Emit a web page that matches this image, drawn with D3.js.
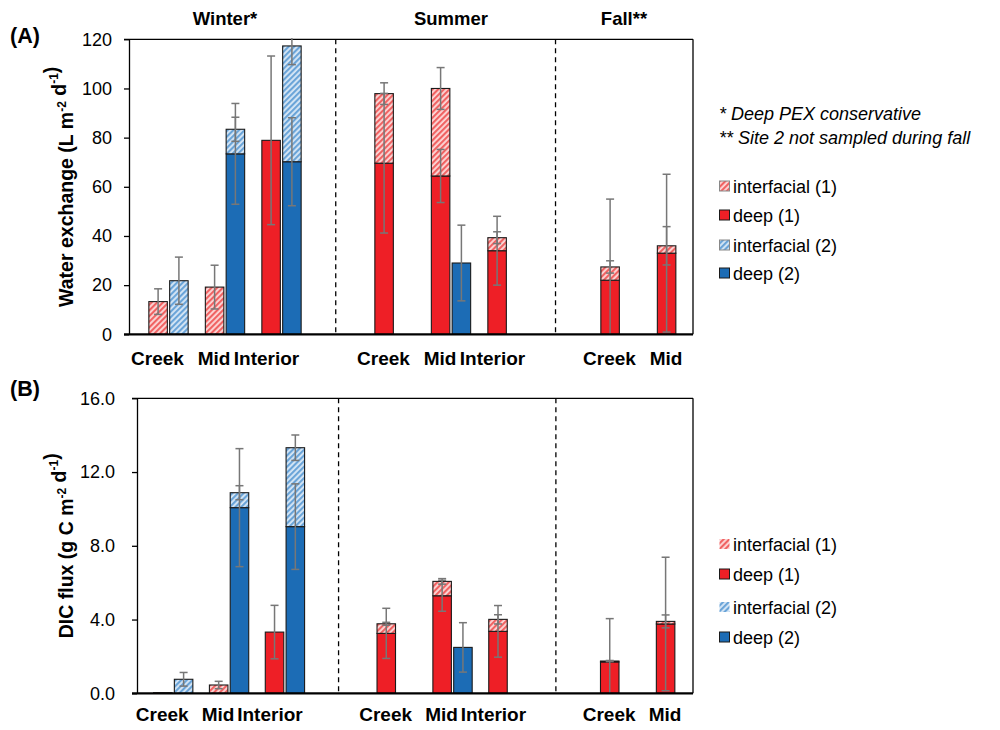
<!DOCTYPE html>
<html>
<head>
<meta charset="utf-8">
<script src="https://cdn.jsdelivr.net/npm/d3@7"></script>
<style>
  body { margin: 0; background: #fff; }
  svg { display: block; font-family: "Liberation Sans", Arial, Helvetica, sans-serif; }
</style>
</head>
<body>
<svg id="chart" width="1000" height="730"></svg>
<script>
// slots along the x axis (empty slots separate the seasons)
const slots = ["wCreek", "wMid", "wInterior", "gap1", "sCreek", "sMid", "sInterior", "gap2", "fCreek", "fMid"];
const seasons = ["Winter*", "Summer", "Fall**"];
const seasonGroups = [
  ["Creek", "Mid", "Interior"],
  ["Creek", "Mid", "Interior"],
  ["Creek", "Mid"]
];
const dividers = [2.96, 6.85]; // dashed season separators, in slot units

// (A) water exchange, L m-2 d-1
const waterDeep1   = [0, 0, 78.9, null, 69.6, 64.4, 34.0, null, 22.0, 33.0];
const waterInt1    = [13.3, 19.2, 0, null, 28.3, 35.6, 5.3, null, 5.4, 3.0];
const waterDeep1Err = [null, null, 34.3, null, 28.4, 10.8, 14.0, null, 33.0, 32.1];
const waterInt1Err  = [5.2, 8.9, null, null, 4.4, 8.5, 2.4, null, 2.5, 7.8];
const waterDeep2   = [0, 73.4, 70.2, null, null, 29.0, null, null, null, null];
const waterInt2    = [21.8, 10.0, 47.1, null, null, 0, null, null, null, null];
const waterDeep2Err = [null, 20.5, 17.9, null, null, 15.4, null, null, null, null];
const waterInt2Err  = [9.6, 4.9, 7.6, null, null, null, null, null, null, null];

// (B) DIC flux, g C m-2 d-1
const dicDeep1   = [0, 0, 3.32, null, 3.25, 5.29, 3.36, null, 1.70, 3.76];
const dicInt1    = [0.03, 0.45, 0, null, 0.52, 0.78, 0.65, null, 0.05, 0.14];
const dicDeep1Err = [null, null, 1.45, null, 1.36, 0.84, 1.40, null, 2.35, 3.62];
const dicInt1Err  = [null, 0.2, null, null, 0.08, 0.15, 0.25, null, 0.03, 0.35];
const dicDeep2   = [0, 10.07, 9.04, null, null, 2.49, null, null, null, null];
const dicInt2    = [0.76, 0.81, 4.28, null, null, 0, null, null, null, null];
const dicDeep2Err = [null, 3.2, 2.32, null, null, 1.34, null, null, null, null];
const dicInt2Err  = [0.37, 0.38, 0.69, null, null, null, null, null, null, null];

const notes = ["* Deep PEX conservative", "** Site 2 not sampled during fall"];
const legendItems = ["interfacial (1)", "deep (1)", "interfacial (2)", "deep (2)"];

const RED = "#ee1f26", BLUE = "#1c6cb5";

const svg = d3.select("#chart");
const defs = svg.append("defs");

function hatch(id, bg, fg) {
  const p = defs.append("pattern")
    .attr("id", id)
    .attr("patternUnits", "userSpaceOnUse")
    .attr("width", 4).attr("height", 4)
    .attr("patternTransform", "rotate(45)");
  p.append("rect").attr("width", 4).attr("height", 4).attr("fill", bg);
  p.append("line").attr("x1", 1).attr("y1", 0).attr("x2", 1).attr("y2", 4)
    .attr("stroke", fg).attr("stroke-width", 2.2);
}
hatch("hRed", "#fcd6d6", "#f06262");
hatch("hBlue", "#d6e6f5", "#6aa4d8");

const styles = {
  int1: "url(#hRed)", deep1: RED,
  int2: "url(#hBlue)", deep2: BLUE
};

function drawPanel(cfg) {
  const g = svg.append("g");
  const x = d3.scaleLinear().domain([0, slots.length - 1]).range(cfg.xRange);
  const y = d3.scaleLinear().domain([0, cfg.yMax]).range([cfg.bottom, cfg.top]);
  const barW = 18.5, off = 10.4;

  // y axis
  const yAxis = d3.axisLeft(y)
    .tickValues(d3.range(0, cfg.yMax + 0.001, cfg.yStep))
    .tickFormat(cfg.fmt)
    .tickSize(5).tickSizeOuter(0).tickPadding(cfg.pad);
  const ga = g.append("g").attr("transform", `translate(${cfg.left},0)`).call(yAxis);
  ga.select(".domain").attr("stroke", "#000").attr("stroke-width", 1.3);
  ga.selectAll(".tick line").attr("stroke", "#000").attr("stroke-width", 1.3);
  ga.selectAll(".tick text").attr("font-size", 18).attr("fill", "#000")
    .attr("font-family", "Liberation Sans, Arial, sans-serif");

  // frame: top and right
  g.append("line").attr("x1", cfg.left - 5).attr("x2", cfg.right)
    .attr("y1", cfg.top).attr("y2", cfg.top).attr("stroke", "#000").attr("stroke-width", 1.3);
  g.append("line").attr("x1", cfg.right).attr("x2", cfg.right)
    .attr("y1", cfg.top).attr("y2", cfg.bottom).attr("stroke", "#000").attr("stroke-width", 1.3);

  // dashed season separators
  g.selectAll(".div").data(dividers).enter().append("line")
    .attr("x1", d => x(d)).attr("x2", d => x(d))
    .attr("y1", cfg.top).attr("y2", cfg.bottom)
    .attr("stroke", "#000").attr("stroke-width", 1.3).attr("stroke-dasharray", "5,4");

  // stacked bars
  const sites = [
    { deep: cfg.deep1, int: cfg.int1, dErr: cfg.deep1Err, iErr: cfg.int1Err, dx: -off, k: 1 },
    { deep: cfg.deep2, int: cfg.int2, dErr: cfg.deep2Err, iErr: cfg.int2Err, dx: off, k: 2 }
  ];
  const rects = [], errs = [];
  sites.forEach(s => {
    slots.forEach((slot, i) => {
      const d = s.deep[i], n = s.int[i];
      if (d == null && n == null) return;
      const cx = x(i) + s.dx;
      const dv = d || 0, nv = n || 0;
      if (dv > 0) rects.push({ cx, y0: 0, y1: dv, fill: styles["deep" + s.k] });
      if (nv > 0) rects.push({ cx, y0: dv, y1: dv + nv, fill: styles["int" + s.k] });
      if (s.dErr[i] != null) errs.push({ cx, v: dv, e: s.dErr[i] });
      if (s.iErr[i] != null) errs.push({ cx, v: dv + nv, e: s.iErr[i] });
    });
  });

  g.selectAll(".bar").data(rects).enter().append("rect")
    .attr("x", d => d.cx - barW / 2)
    .attr("width", barW)
    .attr("y", d => y(d.y1))
    .attr("height", d => Math.max(y(d.y0) - y(d.y1), 0.6))
    .attr("fill", d => d.fill)
    .attr("stroke", "#1a1a1a").attr("stroke-width", 1.1);

  // error bars
  const eg = g.selectAll(".err").data(errs).enter().append("g")
    .attr("stroke", "#777").attr("stroke-width", 1.5);
  eg.append("line")
    .attr("x1", d => d.cx).attr("x2", d => d.cx)
    .attr("y1", d => y(Math.min(d.v + d.e, cfg.yMax * 1.004)))
    .attr("y2", d => y(Math.max(d.v - d.e, 0)));
  eg.filter(d => d.v + d.e <= cfg.yMax).append("line")
    .attr("x1", d => d.cx - 4).attr("x2", d => d.cx + 4)
    .attr("y1", d => y(d.v + d.e)).attr("y2", d => y(d.v + d.e));
  eg.filter(d => d.v - d.e >= 0).append("line")
    .attr("x1", d => d.cx - 4).attr("x2", d => d.cx + 4)
    .attr("y1", d => y(d.v - d.e)).attr("y2", d => y(d.v - d.e));

  // bottom axis line
  g.append("line").attr("x1", cfg.left - 5).attr("x2", cfg.right)
    .attr("y1", cfg.bottom).attr("y2", cfg.bottom).attr("stroke", "#000").attr("stroke-width", 2.2);

  // x category labels
  const seasonStart = [0, 4, 8];
  seasonGroups.forEach((grp, si) => {
    grp.forEach((lab, j) => {
      const shift = lab === "Interior" ? -15 : -11;
      g.append("text")
        .attr("x", x(seasonStart[si] + j) + shift)
        .attr("y", cfg.labelY)
        .attr("text-anchor", "middle")
        .attr("font-size", 19).attr("font-weight", "bold")
        .text(lab);
    });
  });

  // y title
  const t = g.append("text")
    .attr("transform", `translate(${cfg.titleX},${(cfg.top + cfg.bottom) / 2}) rotate(-90)`)
    .attr("text-anchor", "middle")
    .attr("font-size", 19.5).attr("font-weight", "bold");
  cfg.yTitle.forEach(part => {
    if (part.sup) {
      t.append("tspan").attr("dy", -7.5).attr("font-size", 12).text(part.sup);
      t.append("tspan").attr("dy", 7.5).text("");
    } else {
      t.append("tspan").text(part.t);
    }
  });

  // panel tag
  g.append("text").attr("x", 10).attr("y", cfg.tagY)
    .attr("font-size", 21.5).attr("font-weight", "bold").text(cfg.tag);

  // legend
  const lg = g.append("g");
  legendItems.forEach((lab, i) => {
    const yy = cfg.legendY[i];
    const k = i < 2 ? 1 : 2;
    const fill = i % 2 === 0 ? styles["int" + k] : styles["deep" + k];
    const hatched = i % 2 === 0;
    lg.append("rect").attr("x", 719.5).attr("y", yy - 5).attr("width", 10).attr("height", 10)
      .attr("fill", fill)
      .attr("stroke", hatched ? (cfg.hatchOutline ? "#888" : "none") : "#1a1a1a")
      .attr("stroke-width", 1);
    lg.append("text").attr("x", 733).attr("y", yy + 6.5)
      .attr("font-size", 18).text(lab);
  });

  return x;
}

// panel A
const xA = drawPanel({
  top: 39.3, bottom: 334.3, left: 129, right: 693,
  xRange: [168.5, 677], yMax: 120, yStep: 20, fmt: d3.format("d"), pad: 12,
  deep1: waterDeep1, int1: waterInt1, deep1Err: waterDeep1Err, int1Err: waterInt1Err,
  deep2: waterDeep2, int2: waterInt2, deep2Err: waterDeep2Err, int2Err: waterInt2Err,
  labelY: 365, titleX: 73, tag: "(A)", tagY: 43,
  yTitle: [{ t: "Water exchange (L m" }, { sup: "-2" }, { t: " d" }, { sup: "-1" }, { t: ")" }],
  legendY: [186, 215, 245, 273], hatchOutline: true
});

// panel B
drawPanel({
  top: 398.3, bottom: 693.3, left: 137, right: 693,
  xRange: [173.2, 676], yMax: 16, yStep: 4, fmt: d3.format(".1f"), pad: 17,
  deep1: dicDeep1, int1: dicInt1, deep1Err: dicDeep1Err, int1Err: dicInt1Err,
  deep2: dicDeep2, int2: dicInt2, deep2Err: dicDeep2Err, int2Err: dicInt2Err,
  labelY: 721, titleX: 73, tag: "(B)", tagY: 396,
  yTitle: [{ t: "DIC flux (g C m" }, { sup: "-2" }, { t: " d" }, { sup: "-1" }, { t: ")" }],
  legendY: [544, 574, 607, 637], hatchOutline: false
});

// season titles
const seasonX = [xA(1), xA(5), 624];
svg.selectAll(".season").data(seasons).enter().append("text")
  .attr("x", (d, i) => seasonX[i]).attr("y", 25)
  .attr("text-anchor", "middle")
  .attr("font-size", 18.5).attr("font-weight", "bold")
  .text(d => d);

// notes
svg.selectAll(".note").data(notes).enter().append("text")
  .attr("x", 719).attr("y", (d, i) => 120 + i * 23.5)
  .attr("font-size", 18).attr("font-style", "italic")
  .text(d => d);
</script>
</body>
</html>
